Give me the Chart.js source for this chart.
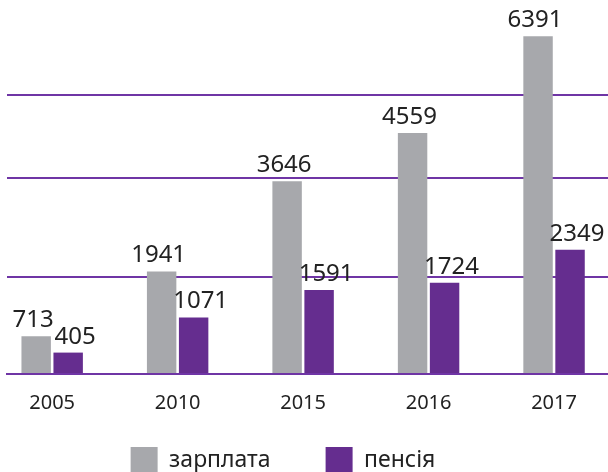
<!DOCTYPE html>
<html>
<head>
<meta charset="utf-8">
<script src="https://cdn.jsdelivr.net/npm/chart.js@4.4.0/dist/chart.umd.min.js"></script>
<style>
  html, body { margin: 0; padding: 0; overflow: hidden; background: #fff; }
  /* canvas runs a bit past the left edge so the legend sits left of centre */
  #wrap { position: absolute; left: -42px; top: 0; width: 650px; height: 484px; }
</style>
</head>
<body>
<div id="wrap"><canvas id="chart"></canvas></div>
<script>
// Data
const years = ['2005', '2010', '2015', '2016', '2017'];
const salary = [713, 1941, 3646, 4559, 6391];
const pension = [405, 1071, 1591, 1724, 2349];
const gridValues = [0, 1840, 3710, 5280];

const FONT = '"Noto Sans", sans-serif';
const LINE = '#6f35a5';

// value labels above the bars
const barLabels = {
  id: 'barLabels',
  afterDatasetsDraw(chart) {
    const ctx = chart.ctx;
    ctx.save();
    ctx.font = '24px ' + FONT;
    ctx.fillStyle = '#222';
    ctx.textAlign = 'center';
    ctx.textBaseline = 'alphabetic';
    chart.data.datasets.forEach((ds, i) => {
      chart.getDatasetMeta(i).data.forEach((bar, j) => {
        ctx.fillText(ds.data[j].y, bar.x + ds.labelShift, bar.y - 9);
      });
    });
    ctx.restore();
  }
};

new Chart(document.getElementById('chart'), {
  type: 'bar',
  data: {
    datasets: [
      {
        label: 'зарплата',
        data: salary.map((v, i) => ({ x: i, y: v })),
        backgroundColor: '#a7a8ac',
        labelShift: -3
      },
      {
        label: 'пенсія',
        data: pension.map((v, i) => ({ x: i, y: v })),
        backgroundColor: '#652d8f',
        labelShift: 7
      }
    ]
  },
  options: {
    responsive: true,
    maintainAspectRatio: false,
    animation: false,
    categoryPercentage: 0.51,
    barPercentage: 0.92,
    layout: { padding: 0 },
    scales: {
      x: {
        type: 'linear',
        offset: false,
        min: -0.36,
        max: 4.43,
        grid: { display: false, drawTicks: false },
        border: { color: LINE, width: 2 },
        afterFit: scale => { scale.height = 18; },
        ticks: {
          stepSize: 1,
          includeBounds: false,
          autoSkip: false,
          maxRotation: 0,
          mirror: true,
          padding: -41,
          color: '#222',
          font: { family: FONT, size: 20 },
          callback: v => years[v] ?? ''
        }
      },
      y: {
        min: 0,
        max: 7075,
        afterFit: scale => { scale.width = 49; },
        afterBuildTicks: scale => {
          scale.ticks = gridValues.map(v => ({ value: v }));
        },
        ticks: { display: false },
        grid: { color: LINE, lineWidth: 2, drawTicks: false },
        border: { display: false }
      }
    },
    plugins: {
      legend: {
        position: 'bottom',
        labels: {
          boxWidth: 27,
          boxHeight: 27,
          padding: 55,
          color: '#222',
          font: { family: FONT, size: 23 }
        }
      },
      tooltip: { enabled: false }
    }
  },
  plugins: [barLabels]
});
</script>
</body>
</html>
